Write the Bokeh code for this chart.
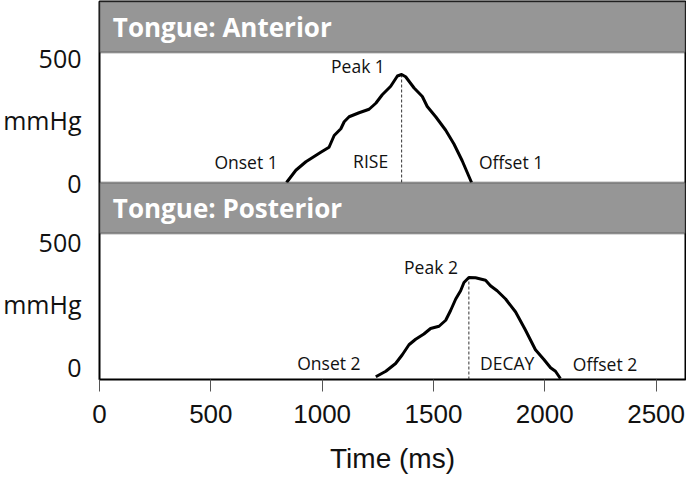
import numpy as np
from bokeh.plotting import figure
from bokeh.models import ColumnDataSource, BoxAnnotation, Label, FixedTicker, Range1d
from bokeh.transform import dodge
from bokeh.core.properties import value
from bokeh.embed import file_html
from bokeh.resources import INLINE

# ---------------- data ----------------
ant_time = [840, 882, 927, 994, 1031, 1054, 1084, 1099, 1121, 1166, 1211, 1241, 1270,
            1308, 1338, 1357, 1375, 1413, 1450, 1472, 1510, 1555, 1592, 1629, 1671]
ant_mmhg = [0, 49, 83, 121, 141, 188, 215, 243, 263, 279, 293, 317, 351,
            385, 426, 432, 423, 378, 344, 304, 263, 209, 154, 87, 0]

post_time = [1241, 1286, 1330, 1360, 1390, 1420, 1457, 1487, 1525, 1555, 1577, 1600, 1622,
             1637, 1659, 1689, 1734, 1756, 1786, 1824, 1869, 1913, 1958, 1996, 2026, 2048, 2070]
post_mmhg = [-41, -19, 12, 47, 87, 109, 130, 152, 161, 185, 224, 270, 303,
             336, 356, 355, 345, 323, 303, 270, 218, 146, 67, 28, -5, -19, -48]

ant_lbl_text = ["Onset 1", "Peak 1", "RISE", "Offset 1"]
ant_lbl_x = [516, 1040, 1139, 1704]
ant_lbl_y = [81, 467, 85, 81]

post_lbl_text = ["Onset 2", "Peak 2", "DECAY", "Offset 2"]
post_lbl_x = [888, 1368, 1709, 2126]
post_lbl_y = [16, 398, 16, 12]

panel_titles = ["Tongue: Anterior", "Tongue: Posterior"]
x_ticks = [0, 500, 1000, 1500, 2000, 2500]
y_ticks = [0, 250, 500]
y_tick_labels = ["0", "mmHg", "500"]

# ---------------- layout (pixels -> y units) ----------------
PX = 0.25            # pixels per mmHg
FRAME_H = 378
FRAME_W = 586
Y_START = -52


def ypos(px_from_bottom):
    return Y_START + px_from_bottom / PX


BOT_HDR_LO = ypos(146)
TOP_ZERO = round(ypos(197))
TOP_HDR_LO = ypos(327)
Y_END = ypos(FRAME_H)

p = figure(frame_width=FRAME_W, frame_height=FRAME_H,
           x_range=Range1d(0, 2632), y_range=Range1d(Y_START, Y_END),
           output_backend="svg", toolbar_location=None,
           min_border_left=94, min_border_right=1, min_border_top=1, min_border_bottom=0)
p.grid.visible = False
p.outline_line_color = "black"
p.outline_line_width = 2
p.background_fill_color = "white"
p.border_fill_color = "white"

# headers
p.add_layout(BoxAnnotation(bottom=TOP_HDR_LO, fill_color="#969696", fill_alpha=1,
                           line_color="black", line_width=2))
p.add_layout(BoxAnnotation(bottom=BOT_HDR_LO, top=TOP_ZERO, fill_color="#969696", fill_alpha=1,
                           line_color="black", line_width=2))
for title, lo, hi in [(panel_titles[0], TOP_HDR_LO, Y_END), (panel_titles[1], BOT_HDR_LO, TOP_ZERO)]:
    p.add_layout(Label(x=60, y=(lo + hi) / 2, text=title, text_color="white",
                       text_font="Open Sans", text_font_style="bold", text_font_size="26px",
                       text_baseline="middle", text_align="left"))

ant = ColumnDataSource(dict(t=ant_time, v=ant_mmhg))
post = ColumnDataSource(dict(t=post_time, v=post_mmhg))

# peak dashed lines
ia = int(np.argmax(ant_mmhg))
ip = int(np.argmax(post_mmhg))
peaks_top = ColumnDataSource(dict(x=[ant_time[ia]], y0=[0], y1=[ant_mmhg[ia]]))
p.segment(x0="x", x1="x", y0=dodge("y0", TOP_ZERO), y1=dodge("y1", TOP_ZERO),
          source=peaks_top, line_color="#333333", line_width=1, line_dash="3 2")
p.segment(x0=[post_time[ip]], x1=[post_time[ip]], y0=[Y_START], y1=[post_mmhg[ip]],
          line_color="#333333", line_width=1, line_dash="3 2")

# curves
p.line(x="t", y=dodge("v", TOP_ZERO), source=ant, line_color="black", line_width=3,
       line_join="round")
p.line(x="t", y="v", source=post, line_color="black", line_width=3, line_join="round")

# annotations
ant_lbl = ColumnDataSource(dict(x=ant_lbl_x, y=ant_lbl_y, text=ant_lbl_text))
post_lbl = ColumnDataSource(dict(x=post_lbl_x, y=post_lbl_y, text=post_lbl_text))
p.text(x="x", y=dodge("y", TOP_ZERO), text="text", source=ant_lbl,
       text_font=value("Open Sans"), text_font_size="17.5px", text_color="#111111",
       text_align="left", text_baseline="middle")
p.text(x="x", y="y", text="text", source=post_lbl,
       text_font=value("Open Sans"), text_font_size="17.5px", text_color="#111111",
       text_align="left", text_baseline="middle")

# y axis (two panels on one axis)
all_ticks = y_ticks + [t + TOP_ZERO for t in y_ticks]
overrides = {}
for t, lab in zip(y_ticks, y_tick_labels):
    overrides[t] = lab
    overrides[t + TOP_ZERO] = lab
p.yaxis.ticker = FixedTicker(ticks=all_ticks)
p.yaxis.major_label_overrides = overrides
p.yaxis.axis_line_color = None
p.yaxis.major_tick_line_color = None
p.yaxis.minor_tick_line_color = None
p.yaxis.major_label_standoff = 12
p.yaxis.major_label_text_font = "Open Sans"
p.yaxis.major_label_text_font_size = "25px"
p.yaxis.major_label_text_color = "#111111"

# x axis
p.xaxis.ticker = FixedTicker(ticks=x_ticks)
p.xaxis.axis_line_color = None
p.xaxis.major_tick_in = 0
p.xaxis.major_tick_out = 12
p.xaxis.major_tick_line_color = "#555555"
p.xaxis.minor_tick_line_color = None
p.xaxis.major_label_standoff = 13
p.xaxis.major_label_text_font = "Liberation Sans"
p.xaxis.major_label_text_font_size = "26px"
p.xaxis.major_label_text_color = "#111111"
p.xaxis.axis_label = "Time (ms)"
p.xaxis.axis_label_standoff = 17
p.xaxis.axis_label_text_font = "Liberation Sans"
p.xaxis.axis_label_text_font_size = "28px"
p.xaxis.axis_label_text_font_style = "normal"
p.xaxis.axis_label_text_color = "#111111"

open("out.html", "w").write(file_html(p, INLINE))
